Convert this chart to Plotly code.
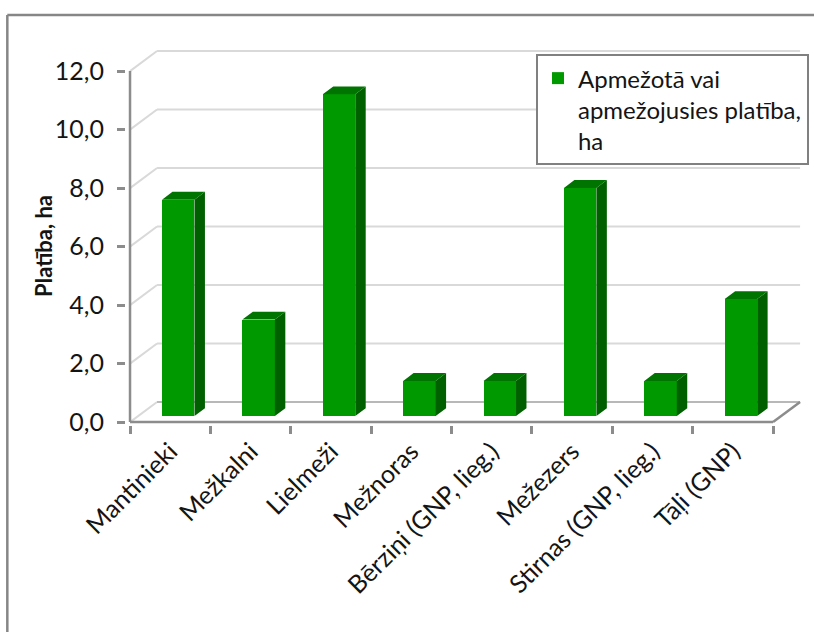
import plotly.graph_objects as go

# ---- data ----
categories = ["Mantinieki", "Mežkalni", "Lielmeži", "Mežnoras",
              "Bērziņi (GNP, lieg.)", "Mežezers", "Stirnas (GNP, lieg.)", "Tāļi (GNP)"]
values = [7.4, 3.3, 11.0, 1.2, 1.2, 7.8, 1.2, 4.0]
y_ticks = [0, 2, 4, 6, 8, 10, 12]
y_ticktext = ["0,0", "2,0", "4,0", "6,0", "8,0", "10,0", "12,0"]
series_name = "Apmežotā vai<br>apmežojusies platība,<br>ha"
y_title = "Platība, ha"

# ---- pseudo-3D geometry (in axis units) ----
n = len(categories)
DX, DY = 0.336, 0.684        # full depth of the chart box
FX, FY = 0.10, 0.205         # front plane of the bars
BW = 0.404                   # bar width
BDX, BDY = 0.13, 0.27        # bar depth

GREEN = "#009a00"
SIDE = "#006000"
TOP = "#007400"
GRID = "#d9d9d9"
AXIS = "#8c8c8c"
FONT = "Lato"
TXT = "#141414"

fig = go.Figure()

shapes = []
# back wall gridlines + left wall diagonals
for v in y_ticks:
    shapes.append(dict(type="line", xref="x", yref="y", x0=0, y0=v, x1=DX, y1=v + DY,
                       layer="below", line=dict(color=GRID, width=2)))
    if v > 0:
        shapes.append(dict(type="line", xref="x", yref="y", x0=DX, y0=v + DY, x1=n + DX,
                           y1=v + DY, layer="below", line=dict(color=GRID, width=2)))
# floor back edge
shapes.append(dict(type="line", xref="x", yref="y", x0=DX, y0=DY, x1=n + DX, y1=DY,
                   layer="below", line=dict(color="#b8b8b8", width=2)))
# floor right edge, x axis line, y axis line
shapes.append(dict(type="line", xref="x", yref="y", x0=n, y0=0, x1=n + DX, y1=DY,
                   layer="below", line=dict(color=AXIS, width=2.5)))
shapes.append(dict(type="line", xref="x", yref="y", x0=0, y0=0, x1=n, y1=0,
                   layer="below", line=dict(color=AXIS, width=2.5)))
shapes.append(dict(type="line", xref="x", yref="y", x0=0, y0=0, x1=0, y1=max(y_ticks),
                   layer="below", line=dict(color=AXIS, width=2.5)))
# outer chart frame (top and left edges)
shapes.append(dict(type="line", xref="paper", yref="paper", x0=-0.1725, x1=1.01,
                   y0=1.0875, y1=1.0875, line=dict(color="#868686", width=2.5)))
shapes.append(dict(type="line", xref="paper", yref="paper", x0=-0.1725, x1=-0.1725,
                   y0=1.0875, y1=-0.6, line=dict(color="#868686", width=2.5)))

# bar front faces
centers = [i + 0.5 + FX for i in range(n)]
fig.add_trace(go.Bar(x=centers, y=values, base=[FY] * n, width=BW,
                     marker=dict(color=GREEN, line=dict(width=0)),
                     name=series_name, showlegend=True))

# side and top faces
sx, sy, tx, ty = [], [], [], []
for c, v in zip(centers, values):
    xl, xr = c - BW / 2, c + BW / 2
    b, t = FY, FY + v
    sx += [xr, xr + BDX, xr + BDX, xr, xr, None]
    sy += [b, b + BDY, t + BDY, t, b, None]
    tx += [xl, xl + BDX, xr + BDX, xr, xl, None]
    ty += [t, t + BDY, t + BDY, t, t, None]
fig.add_trace(go.Scatter(x=sx, y=sy, mode="lines", fill="toself", fillcolor=SIDE,
                         line=dict(width=0, color=SIDE), hoverinfo="skip", showlegend=False))
fig.add_trace(go.Scatter(x=tx, y=ty, mode="lines", fill="toself", fillcolor=TOP,
                         line=dict(width=0, color=TOP), hoverinfo="skip", showlegend=False))

# invisible trace to carry the label axis
fig.add_trace(go.Scatter(x=[i + 0.5 for i in range(n)], y=[0] * n, xaxis="x2",
                         mode="markers", marker=dict(opacity=0), hoverinfo="skip",
                         showlegend=False))

XR = [-0.05, 8.509]
YR = [-0.1, 12.789]

fig.update_layout(
    width=814, height=632,
    margin=dict(l=126, r=0, t=48, b=207),
    paper_bgcolor="white", plot_bgcolor="white",
    font=dict(family=FONT, size=25, color=TXT),
    bargap=0,
    shapes=shapes,
    xaxis=dict(range=XR, tickvals=list(range(n + 1)), showticklabels=False,
               ticks="outside", ticklen=8, tickwidth=2.5, tickcolor=AXIS,
               showgrid=False, zeroline=False, showline=False, fixedrange=True,
               automargin=False),
    xaxis2=dict(range=XR, overlaying="x", anchor="y", side="bottom",
                tickvals=[i + 0.5 for i in range(n)], ticktext=categories,
                tickangle=-45, ticks="", showgrid=False, zeroline=False,
                showline=False, ticklabelstandoff=6, automargin=False,
                tickfont=dict(family=FONT, size=25, color=TXT)),
    yaxis=dict(range=YR, tickvals=y_ticks, ticktext=y_ticktext,
               ticks="outside", ticklen=8, tickwidth=2.5, tickcolor=AXIS,
               showgrid=False, zeroline=False, showline=False,
               ticklabelstandoff=8, automargin=False,
               tickfont=dict(family=FONT, size=25, color=TXT)),
    legend=dict(x=0.9927, y=0.984, xanchor="right", yanchor="top",
                bgcolor="white", bordercolor="#808080", borderwidth=2,
                valign="top", font=dict(family=FONT, size=24, color=TXT)),
    annotations=[dict(text="<b>" + y_title + "</b>", xref="paper", yref="paper",
                      x=-0.1192, y=0.475, xanchor="center", yanchor="middle",
                      textangle=-90, showarrow=False,
                      font=dict(family=FONT, size=22, color=TXT))],
)

fig.write_html("out.html",
               config={"displayModeBar": False},
               post_script="document.body.style.margin='0';"
                           "document.body.style.overflow='hidden';"
                           "document.documentElement.style.overflow='hidden';")
